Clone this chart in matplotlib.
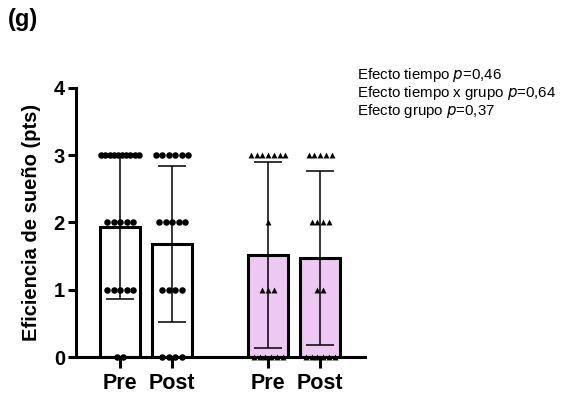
import numpy as np
import matplotlib.pyplot as plt

plt.rcParams['font.family'] = ['Liberation Sans', 'DejaVu Sans']

labels = ['Pre', 'Post', 'Pre', 'Post']
means = [1.93, 1.68, 1.52, 1.47]
sds = [1.07, 1.16, 1.38, 1.29]
# number of subjects at each score (0, 1, 2, 3)
scores = [0, 1, 2, 3]
counts = [
    [2, 5, 5, 10],
    [4, 4, 5, 6],
    [6, 3, 1, 7],
    [6, 2, 4, 5],
]
markers = ['o', 'o', '^', '^']
colors = ['white', 'white', '#ECC8F2', '#ECC8F2']
positions = [0, 1, 2.85, 3.85]

fig = plt.figure(figsize=(5.61, 3.98), dpi=100)
ax = fig.add_axes([0.1355, 0.103, 0.515, 0.676])

for i in range(4):
    x = positions[i]
    ax.bar(x, means[i], width=0.77, color=colors[i], edgecolor='black', linewidth=2.2, zorder=1)
    for s, n in zip(scores, counts[i]):
        step = min(0.125 if markers[i] == 'o' else 0.11, 0.8 / n)
        offs = (np.arange(n) - (n - 1) / 2) * step
        ax.scatter(x + offs, [s] * n, marker=markers[i], s=22 if markers[i] == 'o' else 18,
                   color='black', zorder=3, clip_on=False, linewidths=0)
    ax.errorbar(x, means[i], yerr=sds[i], color='black', capsize=10, elinewidth=1.1,
                capthick=1.1, zorder=2)

ax.set_xlim(-0.846, 4.71)
ax.set_ylim(0, 4)
ax.set_yticks([0, 1, 2, 3, 4])
ax.set_xticks(positions)
ax.set_xticklabels(labels)
for lab in ax.get_yticklabels():
    lab.set_fontweight('bold')
    lab.set_fontsize(14.5)
for lab in ax.get_xticklabels():
    lab.set_fontweight('bold')
    lab.set_fontsize(15.5)
ax.tick_params(axis='y', width=2.2, length=6, pad=2)
ax.tick_params(axis='x', width=2.2, length=8, pad=3.5)
ax.spines['top'].set_visible(False)
ax.spines['right'].set_visible(False)
ax.spines['left'].set_linewidth(2.2)
ax.spines['bottom'].set_linewidth(2.2)
ax.set_ylabel('Eficiencia de sueño (pts)', fontsize=14.5, fontweight='bold', labelpad=9)

fig.text(0.636, 0.766, 'Efecto tiempo $\\it{p}$=0,46\nEfecto tiempo x grupo $\\it{p}$=0,64\nEfecto grupo $\\it{p}$=0,37',
         fontsize=10.8, va='center', ha='left', linespacing=1.0)
fig.text(0.014, 0.95, '(g)', fontsize=17, fontweight='bold', va='center')

fig.savefig('out.png', dpi=100)
